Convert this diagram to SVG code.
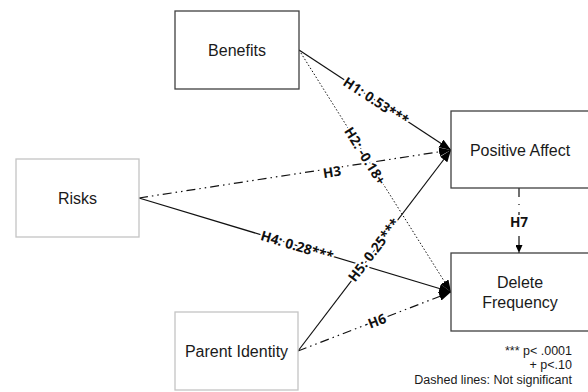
<svg xmlns="http://www.w3.org/2000/svg" width="588" height="392" viewBox="0 0 588 392">
<style>
.box{fill:#fff;stroke:#404040;stroke-width:1.3}
.boxl{fill:#fff;stroke:#c4c4c4;stroke-width:1.3}
.lbl{font-family:"Liberation Sans",Arial,sans-serif;font-size:16px;fill:#1a1a1a;text-anchor:middle}
.leg{font-family:"Liberation Sans",Arial,sans-serif;font-size:12.5px;fill:#1a1a1a;text-anchor:end}
.el{font-family:"Open Sans","DejaVu Sans",sans-serif;font-weight:bold;font-size:13.6px;fill:#111;text-anchor:middle;stroke:#fff;stroke-width:4;paint-order:stroke;stroke-linejoin:round}
.ln{fill:none;stroke:#111;stroke-width:1.2}
.sol{marker-end:url(#ah)}
.dot{stroke-dasharray:1.5 2;stroke-width:1;marker-end:url(#ah)}
.dd{stroke-dasharray:9 4 1.5 4 1.5 4;marker-end:url(#ah)}
</style>
<defs>
<marker id="ah" markerUnits="userSpaceOnUse" markerWidth="12" markerHeight="9" refX="12" refY="4.5" orient="auto">
<path d="M0,0 L12,4.5 L0,9 z" fill="#000"/>
</marker>
<marker id="ah2" markerUnits="userSpaceOnUse" markerWidth="8" markerHeight="7" refX="8" refY="3.5" orient="auto">
<path d="M0,0 L8,3.5 L0,7 z" fill="#000"/>
</marker>
</defs>
<g id="connectors">
<line id="h1" class="ln sol" x1="299" y1="50" x2="451" y2="150"/>
<line id="h2" class="ln dot" x1="299" y1="50" x2="451" y2="292"/>
<line id="h3" class="ln dd" x1="139" y1="198" x2="451" y2="150"/>
<line id="h4" class="ln sol" x1="139" y1="198" x2="451" y2="292"/>
<line id="h5" class="ln sol" x1="298" y1="351" x2="451" y2="150"/>
<line id="h6" class="ln dd" x1="298" y1="351" x2="451" y2="292"/>
<line id="h7" class="ln" x1="519" y1="188" x2="519" y2="253" stroke-dasharray="9 7 1 7" marker-end="url(#ah2)"/>
<text class="el" transform="translate(376,101) rotate(33.34)" y="4.8">H1: 0.53***</text>
<text class="el" transform="translate(365,156) rotate(57.87)" y="4.8">H2: -0.18+</text>
<text class="el" transform="translate(332,172) rotate(-8.75)" y="4.8">H3</text>
<text class="el" transform="translate(297,246) rotate(16.77)" y="4.8">H4: 0.28***</text>
<text class="el" transform="translate(374,250) rotate(-52.72)" y="4.8">H5: 0.25***</text>
<text class="el" transform="translate(377,321) rotate(-21.09)" y="4.8">H6</text>
<text class="el" x="519" y="226.8">H7</text>
</g>
<g id="benefits">
<rect class="box" x="175" y="11" width="124" height="78"/>
<text class="lbl" x="237" y="56">Benefits</text>
</g>
<g id="risks">
<rect class="boxl" x="16" y="159" width="123" height="78"/>
<text class="lbl" x="77.5" y="204">Risks</text>
</g>
<g id="parent-identity">
<rect class="boxl" x="175" y="312" width="123" height="78"/>
<text class="lbl" x="236.5" y="357">Parent Identity</text>
</g>
<g id="positive-affect">
<rect class="box" x="451" y="111" width="139" height="77"/>
<text class="lbl" x="520" y="156">Positive Affect</text>
</g>
<g id="delete-frequency">
<rect class="box" x="451" y="253" width="139" height="78"/>
<text class="lbl" x="520" y="288">Delete</text>
<text class="lbl" x="520" y="308">Frequency</text>
</g>
<g id="legend">
<text class="leg" x="572" y="355">*** p&lt; .0001</text>
<text class="leg" x="572" y="369">+ p&lt;.10</text>
<text class="leg" x="572" y="384">Dashed lines: Not significant</text>
</g>
</svg>
